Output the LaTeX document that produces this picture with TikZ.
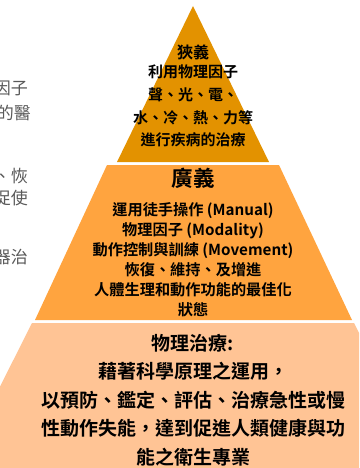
\documentclass[tikz,border=0pt]{standalone}
\usepackage{fontspec}
\newfontfamily\cjk{Noto Sans CJK TC}[BoldFont={Noto Sans CJK TC Bold}]
\definecolor{topfill}{HTML}{E39200}
\definecolor{midfill}{HTML}{FFA43F}
\definecolor{basefill}{HTML}{FFC495}
\definecolor{sidegray}{HTML}{595959}

\begin{document}
\begin{tikzpicture}[x=1pt, y=-1pt,
        layer/.style={align=center, inner sep=0pt, text=black},
        side/.style={anchor=east, inner sep=0pt, text=sidegray, font=\cjk\fontsize{17}{20}\selectfont}]
        \useasboundingbox (0, 0) rectangle (359, 468);
        \clip (0, 0) rectangle (359, 468);

        \fill[white] (0, 0) rectangle (359, 468);

        \node[side] (farline1) at (28, 88) {因子};
        \node[side] (farline2) at (31, 113) {的醫};
        \node[side] (farline3) at (28, 176) {、恢};
        \node[side] (farline4) at (28, 198) {促使};
        \node[side] (farline5) at (28, 257) {器治};

        \fill[topfill] (193, 6) -- (269, 162) -- (117, 162) -- cycle;
        \fill[midfill] (107, 165) -- (279, 165) -- (352, 320) -- (35, 320) -- cycle;
        \fill[basefill] (32, 323) -- (354, 323) -- (427, 468) -- (-41, 468) -- cycle;

        \node[layer, font=\cjk\bfseries\fontsize{16}{20}\selectfont] (narrowtitle) at (193, 52) {狹義};
        \node[layer, font=\cjk\bfseries\fontsize{15}{22.7}\selectfont] (narrowtext) at (193, 106)
            {利用物理因子\\聲、光、電、\\水、冷、熱、力等\\進行疾病的治療};

        \node[layer, font=\cjk\bfseries\fontsize{21.5}{24}\selectfont] (broadtitle) at (193, 178) {廣義};
        \node[layer, font=\cjk\bfseries\fontsize{15.2}{20}\selectfont] (broadtext) at (193, 260)
            {運用徒手操作 (Manual)\\物理因子 (Modality)\\動作控制與訓練 (Movement)\\恢復、維持、及增進\\人體生理和動作功能的最佳化\\狀態};

        \node[layer, font=\cjk\bfseries\fontsize{19}{28.5}\selectfont] (ptdefinition) at (193, 400)
            {物理治療:\\藉著科學原理之運用，\\以預防、鑑定、評估、治療急性或慢\\性動作失能，達到促進人類健康與功\\能之衛生專業};
    \end{tikzpicture}
\end{document}
